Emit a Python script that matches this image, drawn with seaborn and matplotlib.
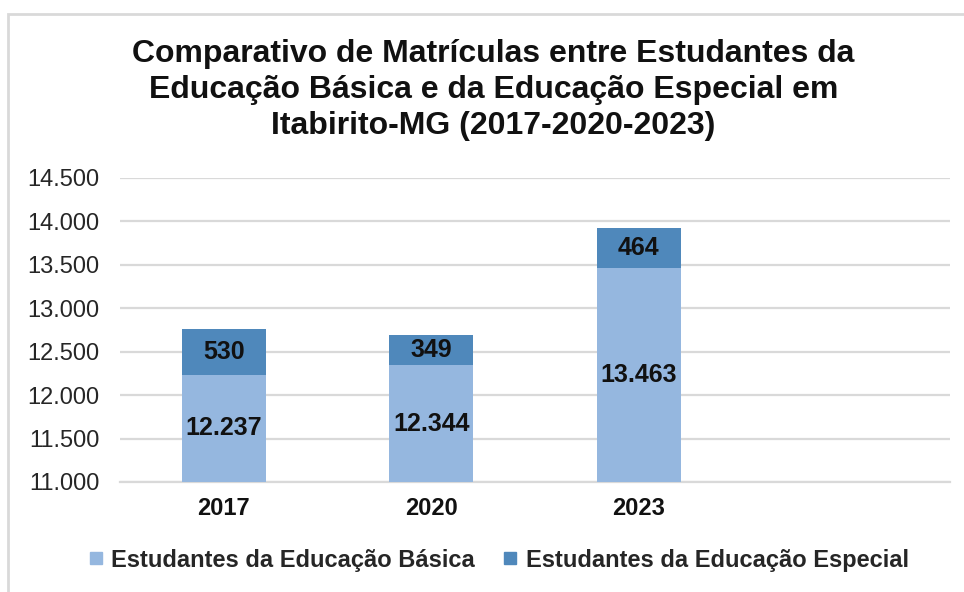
import matplotlib
matplotlib.use("Agg")
import matplotlib.pyplot as plt
import seaborn as sns
import pandas as pd
from matplotlib.patches import Rectangle
from matplotlib.lines import Line2D
from matplotlib.ticker import FuncFormatter

years = ["2017", "2020", "2023"]
basica = [12237, 12344, 13463]
especial = [530, 349, 464]
series_names = ["Estudantes da Educação Básica", "Estudantes da Educação Especial"]
title = ("Comparativo de Matrículas entre Estudantes da\n"
         "Educação Básica e da Educação Especial em\n"
         "Itabirito-MG (2017-2020-2023)")

C_LIGHT = "#95B7DF"
C_DARK = "#4F88BB"
GRID = "#D9D9D9"

sns.set_theme(style="white")
plt.rcParams["font.family"] = ["Liberation Sans", "DejaVu Sans"]

df = pd.DataFrame({"ano": years, "basica": basica, "especial": especial})
df["total"] = df["basica"] + df["especial"]

fig = plt.figure(figsize=(9.64, 5.92), dpi=100)
ax = fig.add_axes([120/964, 1-482/592, (950-120)/964, (482-178)/592])

sns.barplot(data=df, x="ano", y="total", color=C_DARK, width=0.405,
            saturation=1, ax=ax, zorder=3, linewidth=0, edgecolor="none")
sns.barplot(data=df, x="ano", y="basica", color=C_LIGHT, width=0.405,
            saturation=1, ax=ax, zorder=3, linewidth=0, edgecolor="none")

ax.set_xlim(-0.5, 3.5)
ax.set_ylim(11000, 14500)
ax.set_yticks(range(11000, 14501, 500))
ax.yaxis.set_major_formatter(FuncFormatter(lambda v, p: f"{int(v):,}".replace(",", ".")))
ax.grid(axis="y", color=GRID, linewidth=1.6, zorder=0)
ax.set_axisbelow(True)
for s in ["top", "right", "left"]:
    ax.spines[s].set_visible(False)
ax.spines["bottom"].set_color(GRID)
ax.spines["bottom"].set_linewidth(1.6)
ax.set_xlabel("")
ax.set_ylabel("")
ax.tick_params(axis="y", length=0, pad=15, labelsize=17, labelcolor="#262626")
ax.tick_params(axis="x", length=0, pad=11, labelsize=17, labelcolor="#111111")
for t in ax.get_xticklabels():
    t.set_fontweight("bold")

for i, (b, e) in enumerate(zip(basica, especial)):
    ax.text(i, (11000 + b) / 2, f"{b:,}".replace(",", "."), ha="center", va="center",
            fontsize=18, fontweight="bold", color="#111111", zorder=5)
    ax.text(i, b + e / 2, f"{e}", ha="center", va="center",
            fontsize=18, fontweight="bold", color="#111111", zorder=5)

fig.text(0.512, 1-39/592, title, ha="center", va="top", fontsize=23,
         fontweight="bold", linespacing=1.27, color="#111111")

handles = [Line2D([0], [0], marker="s", linestyle="", markersize=8,
                  markerfacecolor=c, markeredgecolor=c) for c in (C_LIGHT, C_DARK)]
fig.legend(handles, series_names, loc="center", bbox_to_anchor=(0.516, 1-560/592),
           ncol=2, frameon=False, prop={"size": 17, "weight": "bold"},
           handletextpad=0.25, columnspacing=1.1, handlelength=0.8)

fig.patches.append(Rectangle((8/964, -0.1), 1.2, 1.1 - 14/592, transform=fig.transFigure,
                             fill=False, edgecolor=GRID, linewidth=2, zorder=0))

fig.savefig("out.png", dpi=100)
